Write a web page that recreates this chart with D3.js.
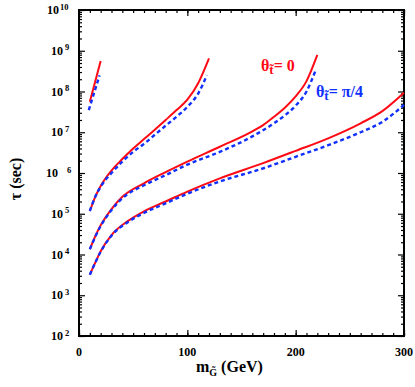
<!DOCTYPE html>
<html>
<head>
<meta charset="utf-8">
<script src="https://cdn.jsdelivr.net/npm/d3@7"></script>
<style>
  body { margin: 0; background: #fff; }
  svg text { font-family: "Liberation Serif", "DejaVu Serif", serif; font-weight: bold; }
</style>
</head>
<body>
<script>
// gravitino mass (GeV) and lifetime tau (sec)
// "0" = theta_t = 0 (red solid), "4" = theta_t = pi/4 (blue dashed)
const mA0 = [10, 20];
const tauA0 = [5.6e7, 5.6e8];
const mA4 = [9, 19];
const tauA4 = [3.5e7, 2.5e8];

const mB0 = [10, 15, 20, 30, 40, 50, 60, 70, 80, 90, 100, 110, 120];
const tauB0 = [1.17e5, 2.6e5, 4.8e5, 1.15e6, 2.2e6, 4.0e6, 6.8e6, 1.15e7, 2.0e7, 3.5e7, 6.3e7, 1.6e8, 6.5e8];
const mB4 = [10, 15, 20, 30, 40, 50, 60, 70, 80, 90, 100, 110, 118];
const tauB4 = [1.17e5, 2.6e5, 4.6e5, 1.0e6, 1.9e6, 3.3e6, 5.2e6, 8.7e6, 1.45e7, 2.4e7, 4.2e7, 8.9e7, 2.5e8];

const mC0 = [10, 15, 20, 30, 40, 60, 80, 100, 130, 160, 170, 180, 190, 200, 210, 220];
const tauC0 = [1.35e4, 2.8e4, 5.2e4, 1.3e5, 2.6e5, 5.6e5, 1.05e6, 1.9e6, 4.4e6, 1.05e7, 1.5e7, 2.4e7, 4.0e7, 7.6e7, 1.8e8, 7.9e8];
const mC4 = [10, 20, 30, 40, 60, 80, 100, 130, 160, 180, 190, 200, 210, 218];
const tauC4 = [1.35e4, 5.0e4, 1.23e5, 2.4e5, 5.0e5, 8.9e5, 1.6e6, 3.3e6, 7.9e6, 1.66e7, 2.6e7, 4.5e7, 1.0e8, 3.1e8];

const mD0 = [10, 15, 20, 30, 45, 60, 80, 100, 130, 170, 200, 230, 260, 280, 300];
const tauD0 = [3.2e3, 6.3e3, 1.2e4, 3.0e4, 6.6e4, 1.15e5, 2.0e5, 3.5e5, 7.4e5, 1.75e6, 3.5e6, 7.1e6, 1.66e7, 3.3e7, 9.3e7];
const mD4 = [10, 15, 20, 30, 45, 60, 80, 100, 130, 170, 200, 230, 260, 280, 300];
const tauD4 = [3.2e3, 6.3e3, 1.17e4, 2.9e4, 6.2e4, 1.05e5, 1.8e5, 3.1e5, 6.2e5, 1.3e6, 2.5e6, 4.8e6, 1.0e7, 1.8e7, 4.7e7];

const xMajor = [0, 100, 200, 300];
const xMinor = d3.range(0, 301, 10);
const yExp = [2, 3, 4, 5, 6, 7, 8, 9, 10];

const W = 415, H = 387;
const pLeft = 79, pRight = 404, pTop = 10, pBottom = 336;

const svg = d3.select("body").append("svg").attr("width", W).attr("height", H);

const x = d3.scaleLinear().domain([0, 300]).range([pLeft, pRight]);
const y = d3.scaleLog().domain([1e2, 1e10]).range([pBottom, pTop]);

// minor log ticks 2..9 in every decade
var yMinor = [];
yExp.slice(0, -1).forEach(function (e) {
    for (var k = 2; k < 10; k++) yMinor.push(k * Math.pow(10, e));
});
const yMajor = yExp.map(function (e) { return Math.pow(10, e); });

function tickAxis(axis, len, vals) {
    return axis.tickValues(vals).tickSize(len).tickFormat("");
}

// inward ticks on all four sides
svg.append("g").attr("transform", "translate(0," + pBottom + ")").call(tickAxis(d3.axisBottom(x), -3, xMinor));
svg.append("g").attr("transform", "translate(0," + pBottom + ")").call(tickAxis(d3.axisBottom(x), -6, xMajor));
svg.append("g").attr("transform", "translate(0," + pTop + ")").call(tickAxis(d3.axisTop(x), -3, xMinor));
svg.append("g").attr("transform", "translate(0," + pTop + ")").call(tickAxis(d3.axisTop(x), -6, xMajor));
svg.append("g").attr("transform", "translate(" + pLeft + ",0)").call(tickAxis(d3.axisLeft(y), -3, yMinor));
svg.append("g").attr("transform", "translate(" + pLeft + ",0)").call(tickAxis(d3.axisLeft(y), -6, yMajor));
svg.append("g").attr("transform", "translate(" + pRight + ",0)").call(tickAxis(d3.axisRight(y), -3, yMinor));
svg.append("g").attr("transform", "translate(" + pRight + ",0)").call(tickAxis(d3.axisRight(y), -6, yMajor));
svg.selectAll(".domain").remove();
svg.selectAll(".tick line").attr("stroke", "#000").attr("stroke-width", 1.2);

svg.append("rect")
    .attr("x", pLeft).attr("y", pTop)
    .attr("width", pRight - pLeft).attr("height", pBottom - pTop)
    .attr("fill", "none").attr("stroke", "#000").attr("stroke-width", 2);

// x tick labels
svg.selectAll(".xlab").data(xMajor).enter().append("text")
    .attr("x", function (d) { return x(d); })
    .attr("y", 356)
    .attr("text-anchor", "middle")
    .attr("font-size", 12)
    .text(function (d) { return d; });

// y tick labels, 10 with superscript exponent
var ylab = svg.selectAll(".ylab").data(yExp).enter().append("g");
ylab.append("text")
    .attr("x", function (d) { return d == 10 ? 59 : d == 6 ? 58 : 63; })
    .attr("y", function (d) { return y(Math.pow(10, d)) + 4; })
    .attr("text-anchor", "end")
    .attr("font-size", 12)
    .text("10");
ylab.append("text")
    .attr("x", function (d) { return d == 10 ? 60 : d == 6 ? 67 : 65; })
    .attr("y", function (d) { return y(Math.pow(10, d)) - 0.5; })
    .attr("font-size", 8.5)
    .text(function (d) { return d; });

// axis titles
var xt = svg.append("text").attr("x", 196).attr("y", 372).attr("font-size", 16);
xt.append("tspan").text("m");
xt.append("tspan").attr("font-size", 10).attr("dy", 4).text("G\u0303");
xt.append("tspan").attr("dy", -4).text(" (GeV)");

svg.append("text")
    .attr("transform", "translate(21,179) rotate(-90)")
    .attr("text-anchor", "middle")
    .attr("font-size", 16)
    .text("\u03c4 (sec)");

// curves
const series = [
    [mA0, tauA0, 0], [mA4, tauA4, 4],
    [mB0, tauB0, 0], [mB4, tauB4, 4],
    [mC0, tauC0, 0], [mC4, tauC4, 4],
    [mD0, tauD0, 0], [mD4, tauD4, 4]
];
const line = d3.line()
    .x(function (d) { return x(d[0]); })
    .y(function (d) { return y(d[1]); })
    .curve(d3.curveMonotoneX);

svg.append("g").selectAll("path").data(series).enter().append("path")
    .attr("d", function (s) { return line(d3.zip(s[0], s[1])); })
    .attr("fill", "none")
    .attr("stroke", function (s) { return s[2] == 0 ? "#ff0a14" : "#1030ff"; })
    .attr("stroke-width", function (s) { return s[2] == 0 ? 2 : 2.4; })
    .attr("stroke-dasharray", function (s) { return s[2] == 0 ? null : "4,3"; });

// legend labels
function thetaLabel(px, py, color, rest) {
    var t = svg.append("text").attr("x", px).attr("y", py).attr("font-size", 16).attr("fill", color);
    t.append("tspan").text("\u03b8");
    t.append("tspan").attr("font-size", 13).attr("dy", 3).text("t\u0303");
    t.append("tspan").attr("dy", -3).text(rest);
}
thetaLabel(261, 71, "#ff0a14", "= 0");
thetaLabel(316, 97, "#1030ff", "= \u03c0/4");
</script>
</body>
</html>
